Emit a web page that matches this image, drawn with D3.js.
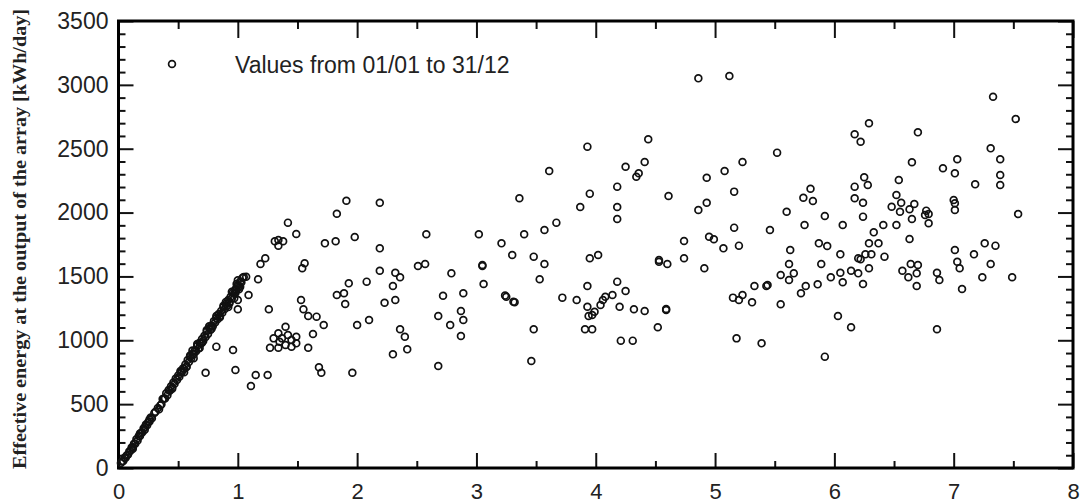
<!DOCTYPE html>
<html>
<head>
<meta charset="utf-8">
<script src="https://cdn.jsdelivr.net/npm/d3@7"></script>
<style>
  html, body { margin: 0; padding: 0; background: #fff; }
  svg { display: block; }
</style>
</head>
<body>
<svg id="chart" width="1080" height="503"></svg>
<script>
// ---- data ----
const xTicks = [0, 1, 2, 3, 4, 5, 6, 7, 8];
const yTicks = [0, 500, 1000, 1500, 2000, 2500, 3000, 3500];
const legendLabel = "Values from 01/01 to 31/12";
const yAxisLabel = "Effective energy at the output of the array [kWh/day]";

// daily points: x value and effective energy (kWh/day)
const xValues = [
  0.02,0.03,0.04,0.05,0.06,0.07,0.08,0.09,0.10,0.11,0.12,0.13,0.14,0.15,0.16,0.17,0.18,0.19,0.20,0.21,
  0.22,0.23,0.24,0.25,0.26,0.27,0.28,0.30,0.31,0.33,0.35,0.36,0.38,0.39,0.40,0.41,0.42,0.43,0.44,0.45,
  0.46,0.47,0.48,0.49,0.50,0.51,0.52,0.53,0.54,0.55,0.56,0.57,0.58,0.59,0.60,0.61,0.62,0.63,0.64,0.65,
  0.66,0.67,0.68,0.69,0.70,0.71,0.72,0.73,0.74,0.75,0.76,0.77,0.78,0.79,0.80,0.81,0.82,0.83,0.84,0.85,
  0.86,0.87,0.88,0.89,0.90,0.91,0.92,0.93,0.94,0.95,0.96,0.97,0.98,0.99,1.00,1.01,1.02,1.03,1.04,1.05,
  0.12,0.18,0.22,0.26,0.34,0.37,0.45,0.52,0.57,0.60,0.63,0.66,0.70,0.74,0.78,0.82,0.85,0.88,0.92,0.95,
  0.97,0.99,1.00,1.02,0.55,0.62,0.68,0.76,0.90,0.93,1.01,0.98,0.73,0.82,
  1.91,2.19,1.83,1.42,1.49,1.34,1.31,1.38,1.34,1.73,1.82,1.98,2.19,2.58,3.02,3.21,3.30,1.23,
  1.19,1.07,1.17,0.98,1.09,1.00,1.00,1.26,1.56,1.54,1.53,1.55,1.59,1.66,1.72,1.63,1.59,
  1.40,1.34,1.42,1.30,1.37,1.49,1.27,1.34,1.40,1.45,1.49,1.35,1.45,
  0.96,0.98,1.15,1.25,1.11,1.68,1.70,1.96,1.93,1.83,1.89,1.90,2.08,2.19,2.00,2.10,2.32,2.36,2.30,2.23,
  2.32,2.36,2.40,2.42,2.30,2.51,2.57,2.79,2.72,2.89,2.68,2.78,2.87,2.89,2.87,2.68,3.05,3.05,3.06,3.25,
  3.24,3.31,
  4.86,5.12,4.44,3.93,3.61,5.52,4.41,4.25,4.36,4.34,5.23,5.08,4.93,3.36,4.18,3.95,4.61,5.16,4.93,4.86,
  3.87,4.18,4.18,5.60,3.67,3.57,3.40,5.16,5.46,4.74,4.95,4.99,5.07,5.20,5.63,3.48,3.95,4.02,4.53,4.74,
  3.57,3.53,3.32,3.72,3.84,3.93,3.93,3.97,3.94,3.99,4.04,4.06,4.08,4.14,4.18,4.25,4.20,4.32,4.41,3.91,
  3.97,4.21,4.31,4.52,4.59,4.59,4.53,4.60,4.91,5.15,5.20,5.23,5.33,5.43,5.44,5.31,5.55,5.62,5.55,5.62,
  5.66,5.18,5.39,3.46,3.48,
  7.33,7.52,6.29,6.17,6.22,6.70,6.65,7.31,7.39,7.03,6.91,7.01,7.39,7.39,7.18,6.54,6.25,6.17,6.28,5.80,
  5.74,5.82,6.17,6.24,6.52,6.56,6.48,6.55,6.67,6.63,6.65,6.77,6.79,6.76,6.79,7.00,7.01,7.01,7.54,5.92,
  6.24,5.75,6.07,6.41,6.52,6.33,6.63,5.87,5.94,6.29,6.37,6.05,6.26,6.31,6.20,6.42,7.01,7.17,7.26,7.35,
  6.22,5.89,6.05,6.14,6.20,6.07,6.29,5.97,6.24,5.86,5.76,5.72,6.57,6.64,6.70,6.62,6.69,6.69,6.86,6.88,
  6.86,7.03,7.05,7.07,7.24,7.31,7.49,6.03,6.14,5.92
];
const energyValues = [
  40,50,55,80,80,100,105,130,135,160,165,190,190,225,215,250,250,275,280,310,
  300,340,335,360,365,395,390,430,440,470,490,500,545,545,585,570,610,605,640,630,
  670,660,700,690,725,715,750,750,780,775,810,795,845,830,870,860,895,890,920,915,
  955,935,980,975,1010,995,1035,1025,1070,1050,1095,1080,1115,1110,1150,1140,1175,1165,1205,1190,
  1230,1215,1260,1245,1285,1270,1315,1300,1340,1330,1375,1365,1400,1395,1430,1425,1460,1455,1490,1495,
  150,270,320,380,460,540,620,760,790,880,860,970,980,1080,1090,1190,1180,1270,1260,1380,
  1330,1440,1470,1420,750,920,940,1110,1300,1290,1400,1370,746,950,
  2093,2077,1991,1921,1832,1785,1775,1775,1741,1759,1775,1809,1720,1830,1830,1759,1668,1642,
  1597,1498,1478,1388,1355,1315,1243,1243,1603,1564,1315,1243,1190,1185,1120,1049,942,
  1106,1055,1041,1015,1015,1028,942,942,963,950,976,989,1002,
  924,767,728,728,642,788,746,746,1446,1355,1368,1284,1459,1545,1120,1159,1529,1493,1425,1294,
  1315,1086,1028,929,890,1582,1597,1524,1349,1368,1190,1120,1229,1159,1034,799,1582,1590,1441,1341,
  1350,1302,
  3051,3069,2574,2516,2326,2469,2396,2359,2307,2281,2396,2326,2273,2112,2203,2148,2130,2164,2077,2020,
  2044,2044,1950,2007,1921,1864,1830,1882,1864,1777,1811,1791,1720,1741,1707,1655,1642,1668,1629,1642,
  1597,1478,1297,1334,1315,1425,1263,1198,1190,1224,1276,1315,1341,1355,1459,1386,1263,1243,1229,1086,
  1086,997,997,1102,1237,1245,1615,1597,1564,1334,1315,1355,1425,1425,1432,1297,1282,1597,1511,1472,
  1524,1015,976,838,1086,
  2907,2733,2699,2613,2555,2628,2394,2503,2417,2417,2347,2307,2294,2216,2221,2255,2276,2203,2216,2187,
  2116,2091,2112,2077,2138,2077,2046,2007,2067,2026,1950,2015,1989,1981,1916,2098,2073,2020,1989,1973,
  1968,1903,1903,1903,1903,1845,1793,1759,1738,1759,1759,1673,1673,1673,1642,1655,1707,1673,1759,1741,
  1634,1597,1529,1545,1524,1454,1564,1493,1441,1438,1425,1368,1545,1597,1589,1493,1524,1425,1529,1472,
  1086,1615,1564,1402,1493,1597,1493,1190,1102,872
];

// ---- drawing ----
const svg = d3.select("#chart");
const plotLeft = 118.5, plotRight = 1073, plotTop = 21, plotBottom = 468;

const x = d3.scaleLinear().domain([0, 8]).range([plotLeft, plotRight]);
const y = d3.scaleLinear().domain([0, 3500]).range([plotBottom, plotTop]);

const tickFont = "'Liberation Sans', Arial, sans-serif";
const majorLen = 15, minorLen = 7;

const xMinor = d3.range(0.5, 8, 1);
const yMinor = d3.range(0, 3501, 100).filter(v => v % 500 !== 0);

function styleAxis(g) {
  g.select(".domain").remove();
  g.selectAll(".tick line").attr("stroke", "#111").attr("stroke-width", 2);
}

// bottom axis with labels
svg.append("g").attr("transform", `translate(0,${plotBottom})`)
  .call(d3.axisBottom(x).tickValues(xTicks).tickSize(-majorLen).tickPadding(15).tickFormat(d3.format("d")))
  .call(styleAxis)
  .call(g => g.selectAll("text").attr("font-family", tickFont).attr("font-size", 22).attr("fill", "#222"));
svg.append("g").attr("transform", `translate(0,${plotBottom})`)
  .call(d3.axisBottom(x).tickValues(xMinor).tickSize(-minorLen).tickFormat(""))
  .call(styleAxis);

// top axis (ticks only)
svg.append("g").attr("transform", `translate(0,${plotTop})`)
  .call(d3.axisTop(x).tickValues(xTicks).tickSize(-majorLen - 2).tickFormat(""))
  .call(styleAxis);
svg.append("g").attr("transform", `translate(0,${plotTop})`)
  .call(d3.axisTop(x).tickValues(xMinor).tickSize(-minorLen - 1).tickFormat(""))
  .call(styleAxis);

// left axis with labels
svg.append("g").attr("transform", `translate(${plotLeft},0)`)
  .call(d3.axisLeft(y).tickValues(yTicks).tickSize(-majorLen).tickPadding(10).tickFormat(d3.format("d")))
  .call(styleAxis)
  .call(g => g.selectAll("text").attr("font-family", tickFont).attr("font-size", 23).attr("fill", "#222"));
svg.append("g").attr("transform", `translate(${plotLeft},0)`)
  .call(d3.axisLeft(y).tickValues(yMinor).tickSize(-minorLen).tickFormat(""))
  .call(styleAxis);

// right axis (ticks only)
svg.append("g").attr("transform", `translate(${plotRight},0)`)
  .call(d3.axisRight(y).tickValues(yTicks).tickSize(-majorLen).tickFormat(""))
  .call(styleAxis);
svg.append("g").attr("transform", `translate(${plotRight},0)`)
  .call(d3.axisRight(y).tickValues(yMinor).tickSize(-minorLen).tickFormat(""))
  .call(styleAxis);

// frame
svg.append("rect")
  .attr("x", plotLeft).attr("y", plotTop)
  .attr("width", plotRight - plotLeft).attr("height", plotBottom - plotTop)
  .attr("fill", "none").attr("stroke", "#000").attr("stroke-width", 3);

// points
const pts = xValues.map((v, i) => ({ x: v, y: energyValues[i] }));
svg.append("g")
  .selectAll("circle").data(pts).join("circle")
  .attr("cx", d => x(d.x)).attr("cy", d => y(d.y))
  .attr("r", 3.4)
  .attr("fill", "none").attr("stroke", "#111").attr("stroke-width", 1.7);

// legend
svg.append("circle").attr("cx", 172).attr("cy", 64).attr("r", 3.4)
  .attr("fill", "none").attr("stroke", "#111").attr("stroke-width", 1.7);
svg.append("text").attr("x", 235).attr("y", 73)
  .attr("font-family", tickFont).attr("font-size", 23).attr("fill", "#222")
  .text(legendLabel);

// y axis title
svg.append("text")
  .attr("transform", "translate(22,239) rotate(-90)")
  .attr("text-anchor", "middle").attr("dominant-baseline", "middle")
  .attr("font-family", "'Liberation Serif', 'Times New Roman', serif")
  .attr("font-size", 19).attr("font-weight", "bold").attr("fill", "#222")
  .attr("textLength", 460).attr("lengthAdjust", "spacingAndGlyphs")
  .text(yAxisLabel);
</script>
</body>
</html>
